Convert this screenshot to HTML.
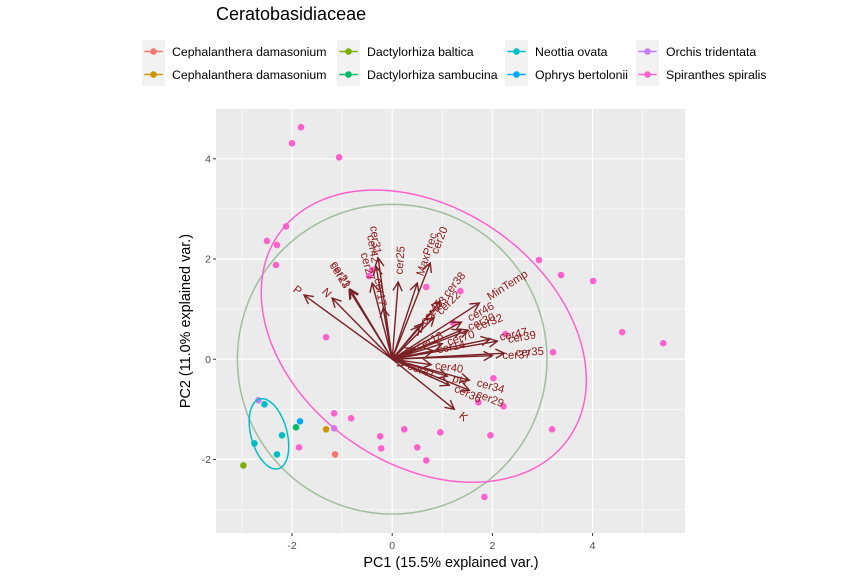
<!DOCTYPE html>
<html>
<head>
<meta charset="utf-8">
<style>
html,body{margin:0;padding:0;background:#fff;width:865px;height:578px;overflow:hidden}
svg{display:block;font-family:"Liberation Sans",sans-serif}
</style>
</head>
<body>
<svg id="chart" width="865" height="578" viewBox="0 0 865 578" xmlns="http://www.w3.org/2000/svg">
<text x="216" y="20" font-size="18" fill="#000">Ceratobasidiaceae</text>
<rect x="216" y="109" width="469" height="424" fill="#EBEBEB"/>
<g id="grid"></g>
<g id="ticks"></g>
<g id="points"></g>
<g id="ellipses"></g>
<g id="arrows"></g>
<g id="labels"></g>
<g id="legend"></g>
<text x="451" y="567" font-size="14.4" text-anchor="middle" fill="#000">PC1 (15.5% explained var.)</text>
<text transform="translate(190,321) rotate(-90)" font-size="14.4" text-anchor="middle" fill="#000">PC2 (11.0% explained var.)</text>
</svg>
<script>
const speciesNames = ["Cephalanthera damasonium","Cephalanthera damasonium","Dactylorhiza baltica","Dactylorhiza sambucina","Neottia ovata","Ophrys bertolonii","Orchis tridentata","Spiranthes spiralis"];
const speciesColors = ["#F8766D","#CD9600","#7CAE00","#00BE67","#00BFC4","#00A9FF","#C77CFF","#FF61CC"];
const pc1Values = [
  [-1.14],
  [-1.32],
  [-2.97],
  [-1.92],
  [-2.55,-2.2,-2.75,-2.3],
  [-1.84],
  [-2.67,-1.16],
  [-1.82,-2.0,-1.06,-2.12,-2.5,-2.3,-2.32,-1.32,-0.4,-0.46,0.68,1.36,2.93,3.37,4.01,4.59,5.41,3.21,2.26,1.22,2.02,2.22,1.72,1.96,3.19,0.96,0.24,-0.24,-0.22,0.5,0.68,1.84,-1.16,-0.82,-1.86]
];
const pc2Values = [
  [-1.9],
  [-1.4],
  [-2.12],
  [-1.36],
  [-0.9,-1.52,-1.68,-1.9],
  [-1.24],
  [-0.82,-1.38],
  [4.63,4.31,4.03,2.65,2.36,2.28,1.88,0.44,1.78,1.66,1.44,1.36,1.98,1.68,1.56,0.54,0.32,0.14,0.5,0.72,-0.38,-0.94,-0.86,-1.52,-1.4,-1.46,-1.4,-1.54,-1.78,-1.76,-2.02,-2.75,-1.08,-1.18,-1.76]
];
const varNames = ["P","N","cer23","cer21","cer31","cer42","cer27","cer17","cer25","MaxPrec","cer20","cer38","cer22","cer45","cer43","MinTemp","cer46","cer30","cer32","cer70","cer14","cer18","cer47","cer39","cer35","cer37","cer40","cer41","pH","cer34","cer29","cer36","K"];
const varPC1 = [-1.76,-1.2,-0.86,-0.84,-0.28,-0.32,-0.4,-0.18,0.12,0.5,0.76,0.96,0.84,0.55,0.62,1.74,1.38,1.38,1.52,1.0,0.82,0.45,1.95,2.1,2.24,2.0,0.78,0.29,1.1,1.54,1.54,1.14,1.24];
const varPC2 = [1.28,1.22,1.38,1.4,2.02,1.85,1.52,1.02,1.54,1.52,1.92,1.16,0.84,0.66,0.72,1.12,0.74,0.58,0.58,0.31,0.17,0.22,0.4,0.36,0.12,0.07,-0.11,-0.11,-0.34,-0.42,-0.62,-0.52,-1.0];
const labelScaleRight = 1.1;
const labelScaleLeft = 1.04;
const xTicks = [-2,0,2,4];
const yTicks = [-2,0,2,4];
const xMinor = [-3,-1,1,3,5];
const yMinor = [-3,-1,1,3];
const circleRadius = [3.09];
const ellipseCenterX = [-2.46,0.63];
const ellipseCenterY = [-1.49,0.46];
const ellipseMajor = [0.72,3.54];
const ellipseMinor = [0.36,2.55];
const ellipseAngle = [105,-35.2];

const NS = "http://www.w3.org/2000/svg";
const X = v => 392.2 + 50.1 * v;
const Y = v => 359.2 - 50.1 * v;
const panel = {l:216, r:685, t:109, b:533};
function mk(parent, tag, attrs){
  const el = document.createElementNS(NS, tag);
  for (const k in attrs) el.setAttribute(k, attrs[k]);
  document.getElementById(parent).appendChild(el);
  return el;
}
xMinor.forEach(v => {
  const el = mk("grid","line",{x1:X(v),x2:X(v),y1:panel.t,y2:panel.b,stroke:"#fff","stroke-width":0.6});
  
  
});
yMinor.forEach(v => {
  const el = mk("grid","line",{x1:panel.l,x2:panel.r,y1:Y(v),y2:Y(v),stroke:"#fff","stroke-width":0.6});
  
  
});
xTicks.forEach(v => {
  const g = mk("grid","line",{x1:X(v),x2:X(v),y1:panel.t,y2:panel.b,stroke:"#fff","stroke-width":1.2});
  
  
  const t = mk("ticks","line",{x1:X(v),x2:X(v),y1:panel.b,y2:panel.b+3,stroke:"#333","stroke-width":1});
  
  
  const l = mk("ticks","text",{x:X(v),y:panel.b+16,"font-size":"10.5","text-anchor":"middle",fill:"#4D4D4D"});
  l.textContent = v < 0 ? "-" + Math.abs(v) : String(v);
  
  
});
yTicks.forEach(v => {
  const g = mk("grid","line",{x1:panel.l,x2:panel.r,y1:Y(v),y2:Y(v),stroke:"#fff","stroke-width":1.2});
  
  
  const t = mk("ticks","line",{x1:panel.l-3,x2:panel.l,y1:Y(v),y2:Y(v),stroke:"#333","stroke-width":1});
  
  
  const l = mk("ticks","text",{x:panel.l-5,y:Y(v)+3.7,"font-size":"10.5","text-anchor":"end",fill:"#4D4D4D"});
  l.textContent = v < 0 ? "-" + Math.abs(v) : String(v);
  
  
});
pc1Values.forEach((xs, s) => {
  xs.forEach((x, i) => {
    const c = mk("points","circle",{cx:X(x),cy:Y(pc2Values[s][i]),r:3.3,fill:speciesColors[s]});
    
    
  });
});
function ellipsePath(cx, cy, a, b, deg){
  const r = deg * Math.PI / 180, pts = [];
  for (let i = 0; i <= 180; i++){
    const t = i / 180 * 2 * Math.PI;
    const u = a * Math.cos(t), w = b * Math.sin(t);
    pts.push(X(cx + u * Math.cos(r) - w * Math.sin(r)).toFixed(2) + "," + Y(cy + u * Math.sin(r) + w * Math.cos(r)).toFixed(2));
  }
  return "M" + pts.join("L") + "Z";
}
const circle = mk("ellipses","path",{d:ellipsePath(0,0,circleRadius[0],circleRadius[0],0),fill:"none",stroke:"#A0BD9F","stroke-width":1.5});


const ellipseColors = [speciesColors[4], speciesColors[7]];
ellipseCenterX.forEach((cx, i) => {
  const e = mk("ellipses","path",{d:ellipsePath(cx,ellipseCenterY[i],ellipseMajor[i],ellipseMinor[i],ellipseAngle[i]),fill:"none",stroke:ellipseColors[i],"stroke-width":1.5});
  
  
});
varNames.forEach((name, i) => {
  const vx = varPC1[i], vy = varPC2[i];
  const x0 = X(0), y0 = Y(0), x1 = X(vx), y1 = Y(vy);
  const ang = Math.atan2(y1 - y0, x1 - x0), h = 10, sp = 0.48;
  const a = mk("arrows","path",{d:"M"+x0+","+y0+"L"+x1+","+y1+"M"+(x1-h*Math.cos(ang-sp))+","+(y1-h*Math.sin(ang-sp))+"L"+x1+","+y1+"L"+(x1-h*Math.cos(ang+sp))+","+(y1-h*Math.sin(ang+sp)),fill:"none",stroke:"#7A2226","stroke-width":1.4});
  
  
  const scale = vx > 0 ? labelScaleRight : labelScaleLeft;
  const lx = X(vx * scale), ly = Y(vy * scale);
  const deg = -Math.atan(vy / vx) * 180 / Math.PI;
  const t = mk("labels","text",{x:lx,y:ly+3.7,"font-size":"11.3",fill:"#8B1A1A","text-anchor":vx>0?"start":"end",transform:"rotate("+deg+" "+lx+" "+ly+")"});
  t.textContent = name;
  
  
});
const legendKeyX = [142,337,505,636];
const legendKeyY = [40,63];
speciesNames.forEach((name, i) => {
  const col = Math.floor(i / 2), row = i % 2;
  const kx = legendKeyX[col], ky = legendKeyY[row];
  const r = mk("legend","rect",{x:kx,y:ky,width:23,height:23,fill:"#F2F2F2"});
  
  
  const l = mk("legend","line",{x1:kx+2.3,x2:kx+20.7,y1:ky+11.5,y2:ky+11.5,stroke:speciesColors[i],"stroke-width":1.5});
  
  
  const c = mk("legend","circle",{cx:kx+11.5,cy:ky+11.5,r:3.3,fill:speciesColors[i]});
  
  
  const t = mk("legend","text",{x:kx+30,y:ky+16,"font-size":"12.3",fill:"#000"});
  t.textContent = name;
  
  
});
</script>
</body>
</html>
